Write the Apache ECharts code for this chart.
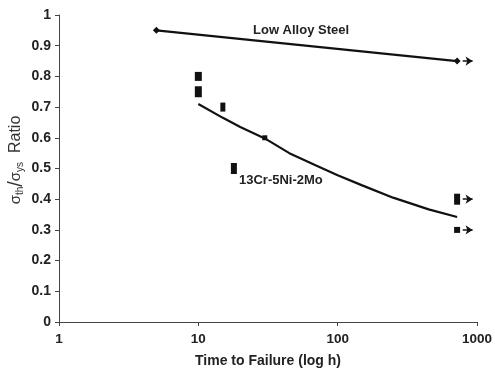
<!DOCTYPE html>
<html><head><meta charset="utf-8">
<script src="https://cdn.jsdelivr.net/npm/echarts@6/dist/echarts.min.js"></script>
<style>html,body{margin:0;padding:0;background:#fff}#c{width:495px;height:373px}</style>
</head><body><div id="c"></div>
<script>
var xTicks = [1, 10, 100, 1000];
var yTicks = [0, 0.1, 0.2, 0.3, 0.4, 0.5, 0.6, 0.7, 0.8, 0.9, 1];
var steelX = [5, 720];
var steelY = [0.95, 0.85];
var fitX = [10, 15, 20, 30, 45, 70, 100, 150, 250, 450, 720];
var fitY = [0.71, 0.665, 0.635, 0.598, 0.55, 0.51, 0.478, 0.445, 0.405, 0.367, 0.342];
var crX = [10, 10, 15, 30, 18, 720, 720];
var crY = [0.80, 0.75, 0.70, 0.60, 0.50, 0.40, 0.30];
var runoutY = [0.85, 0.40, 0.30];
var runoutFrom = 790, runoutTo = 930;

var crSizes = [[7,9],[7,11],[5,9],[5,5],[6,11],[6,11],[6,6]];
var font = '"Liberation Sans",Arial,sans-serif';

var chart = echarts.init(document.getElementById('c'));
chart.setOption({
  animation: false,
  grid: {left: 59, right: 18, top: 15, bottom: 50},
  xAxis: {
    type: 'log', logBase: 10, min: xTicks[0], max: xTicks[xTicks.length-1],
    name: 'Time to Failure (log h)', nameLocation: 'middle', nameGap: 32,
    nameTextStyle: {fontFamily: font, fontWeight: 'bold', fontSize: 14, color: '#222'},
    axisLine: {lineStyle: {color: '#444', width: 1}},
    axisTick: {show: true, length: 4, lineStyle: {color: '#444'}},
    minorTick: {show: false},
    axisLabel: {fontFamily: font, fontWeight: 'bold', fontSize: 13.5, color: '#222', margin: 10,
      formatter: function(v){return String(v);}},
    splitLine: {show: false}
  },
  yAxis: {
    type: 'value', min: 0, max: 1, interval: 0.1,
    axisLine: {show: true, lineStyle: {color: '#444', width: 1}},
    axisTick: {show: true, length: 4, lineStyle: {color: '#444'}},
    axisLabel: {fontFamily: font, fontWeight: 'bold', fontSize: 14, color: '#222', margin: 8},
    splitLine: {show: false}
  },
  graphic: [
    {type: 'text', x: 16, y: 160, rotation: Math.PI/2, style: {
      text: '{s|σ}{b|th}{sl|/}{s|σ}{b|ys}{r|  Ratio}', align: 'center', verticalAlign: 'middle',
      fill: '#333',
      rich: {
        s: {fontSize: 15, fontFamily: font, fill: '#333'},
        b: {fontSize: 10, fontFamily: font, fill: '#333', padding: [9,0,0,0]},
        sl: {fontSize: 20, fontFamily: font, fill: '#333'},
        r: {fontSize: 16, fontFamily: font, fill: '#333'}
      }
    }},
    {type: 'text', x: 253, y: 30, style: {text: 'Low Alloy Steel', fontFamily: font, fontWeight: 'bold', fontSize: 13, fill: '#222', verticalAlign: 'middle'}},
    {type: 'text', x: 239, y: 180, style: {text: '13Cr-5Ni-2Mo', fontFamily: font, fontWeight: 'bold', fontSize: 13, fill: '#222', verticalAlign: 'middle'}}
  ],
  series: [
    {
      type: 'line', data: steelX.map(function(x,i){return [x, steelY[i]];}),
      symbol: 'diamond', symbolSize: 7, showSymbol: true,
      lineStyle: {color: '#111', width: 2.2}, itemStyle: {color: '#111'},
      markLine: {
        silent: true, symbol: ['none','arrow'], symbolSize: 7,
        lineStyle: {color: '#111', width: 1.5, type: 'solid'}, label: {show: false},
        data: runoutY.map(function(y){return [{coord:[runoutFrom, y]},{coord:[runoutTo, y]}];})
      }
    },
    {
      type: 'line', data: fitX.map(function(x,i){return [x, fitY[i]];}),
      showSymbol: false, smooth: false,
      lineStyle: {color: '#111', width: 2.2}
    },
    {
      type: 'scatter', data: crX.map(function(x,i){return {value: [x, crY[i]], symbolSize: crSizes[i]};}),
      symbol: 'rect', itemStyle: {color: '#111', opacity: 1}
    }
  ]
});
</script></body></html>
